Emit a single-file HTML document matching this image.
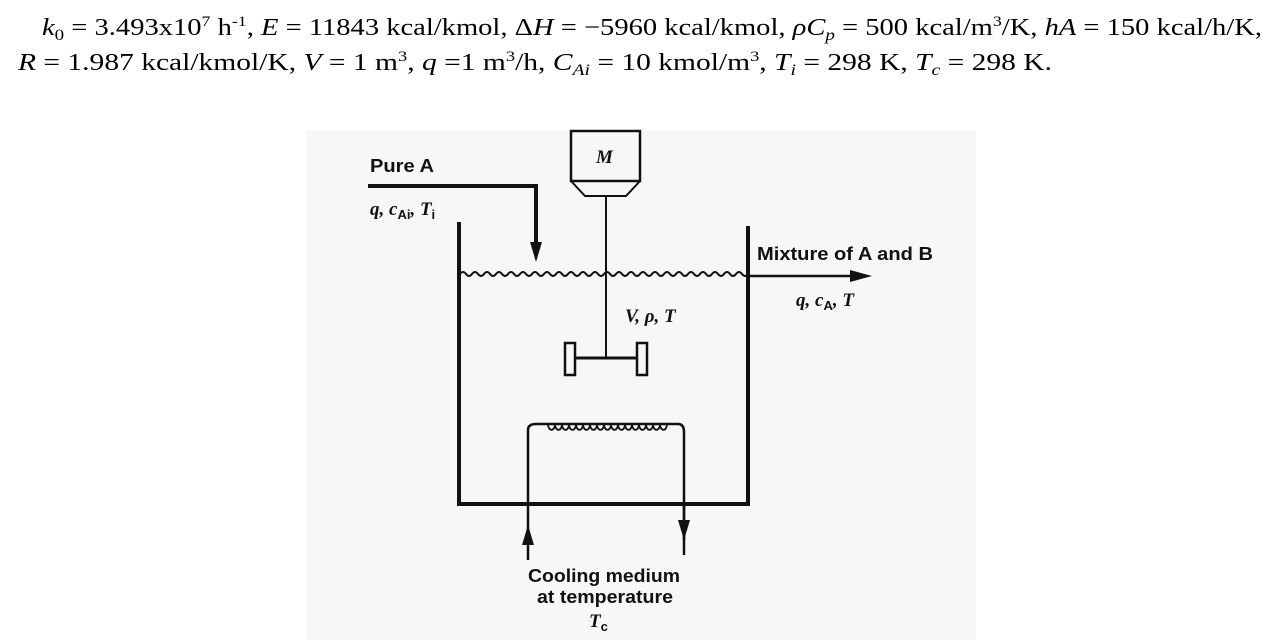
<!DOCTYPE html>
<html><head><meta charset="utf-8"><style>
html,body{margin:0;padding:0;background:#fff;}
svg{display:block;}
.t{font-family:"Liberation Serif",serif;font-size:24px;fill:#000;}
.d{font-family:"Liberation Sans",sans-serif;font-size:18px;font-weight:bold;fill:#111;}
.di{font-family:"Liberation Serif",serif;font-size:19px;font-weight:bold;font-style:italic;fill:#111;}
</style></head><body>
<svg width="1282" height="640" viewBox="0 0 1282 640" xmlns="http://www.w3.org/2000/svg">
<rect width="1282" height="640" fill="#fff"/>
<text class="t" x="42" y="35" textLength="1220" lengthAdjust="spacingAndGlyphs"><tspan font-style="italic">k</tspan><tspan font-size="16" dy="5">0</tspan><tspan dy="-5"> = 3.493x10</tspan><tspan font-size="15" dy="-9">7</tspan><tspan dy="9"> h</tspan><tspan font-size="15" dy="-9">-1</tspan><tspan dy="9">, </tspan><tspan font-style="italic">E</tspan> = 11843 kcal/kmol, Δ<tspan font-style="italic">H</tspan> = −5960 kcal/kmol, <tspan font-style="italic">ρC</tspan><tspan font-size="16" font-style="italic" dy="5">p</tspan><tspan dy="-5"> = 500 kcal/m</tspan><tspan font-size="15" dy="-9">3</tspan><tspan dy="9">/K, </tspan><tspan font-style="italic">hA</tspan> = 150 kcal/h/K,</text>
<text class="t" x="18" y="70" textLength="1034" lengthAdjust="spacingAndGlyphs"><tspan font-style="italic">R</tspan> = 1.987 kcal/kmol/K, <tspan font-style="italic">V</tspan> = 1 m<tspan font-size="15" dy="-9">3</tspan><tspan dy="9">, </tspan><tspan font-style="italic">q</tspan> =1 m<tspan font-size="15" dy="-9">3</tspan><tspan dy="9">/h, </tspan><tspan font-style="italic">C</tspan><tspan font-size="16" font-style="italic" dy="5">Ai</tspan><tspan dy="-5"> = 10 kmol/m</tspan><tspan font-size="15" dy="-9">3</tspan><tspan dy="9">,  </tspan><tspan font-style="italic">T</tspan><tspan font-size="16" font-style="italic" dy="5">i</tspan><tspan dy="-5"> = 298 K, </tspan><tspan font-style="italic">T</tspan><tspan font-size="16" font-style="italic" dy="5">c</tspan><tspan dy="-5"> = 298 K.</tspan></text>

<rect x="306" y="130" width="670" height="510" fill="#f7f7f7"/>
<g stroke="#111" fill="none">
<rect x="571" y="131" width="69" height="50" stroke-width="2.5"/>
<path d="M571 181 L585 196 L626 196 L640 181" stroke-width="2"/>
<line x1="606" y1="196" x2="606" y2="358" stroke-width="2"/>
<line x1="575" y1="358" x2="637" y2="358" stroke-width="3"/>
<rect x="565" y="343" width="10" height="32" stroke-width="2.5"/>
<rect x="637" y="343" width="10" height="32" stroke-width="2.5"/>
<path d="M368 186 L536 186 L536 250" stroke-width="4"/>
<path d="M459 222 L459 504 L748 504 L748 226" stroke-width="4"/>
<path d="M460 274 q3 -4 6 0 q3 4 6 0 q3 -4 6 0 q3 4 6 0 q3 -4 6 0 q3 4 6 0 q3 -4 6 0 q3 4 6 0 q3 -4 6 0 q3 4 6 0 q3 -4 6 0 q3 4 6 0 q3 -4 6 0 q3 4 6 0 q3 -4 6 0 q3 4 6 0 q3 -4 6 0 q3 4 6 0 q3 -4 6 0 q3 4 6 0 q3 -4 6 0 q3 4 6 0 q3 -4 6 0 q3 4 6 0 q3 -4 6 0 q3 4 6 0 q3 -4 6 0 q3 4 6 0 q3 -4 6 0 q3 4 6 0 q3 -4 6 0 q3 4 6 0 q3 -4 6 0 q3 4 6 0 q3 -4 6 0 q3 4 6 0 q3 -4 6 0 q3 4 6 0 q3 -4 6 0 q3 4 6 0 q3 -4 6 0 q3 4 6 0 q3 -4 6 0 q3 4 6 0 q3 -4 6 0 q3 4 6 0 q3 -4 6 0 q3 4 6 0" stroke-width="2"/>
<line x1="748" y1="276" x2="860" y2="276" stroke-width="2.5"/>
<path d="M528 540 L528 430 Q528 424 536 424 L678 424 Q684 424 684 432 L684 540" stroke-width="2.5"/>
<path d="M548 424 a3 5 0 1 0 7 0 a3 5 0 1 0 7 0 a3 5 0 1 0 7 0 a3 5 0 1 0 7 0 a3 5 0 1 0 7 0 a3 5 0 1 0 7 0 a3 5 0 1 0 7 0 a3 5 0 1 0 7 0 a3 5 0 1 0 7 0 a3 5 0 1 0 7 0 a3 5 0 1 0 7 0 a3 5 0 1 0 7 0 a3 5 0 1 0 7 0 a3 5 0 1 0 7 0 a3 5 0 1 0 7 0 a3 5 0 1 0 7 0 a3 5 0 1 0 7 0" stroke-width="1.8"/>
<line x1="528" y1="540" x2="528" y2="560" stroke-width="2.5"/>
<line x1="684" y1="504" x2="684" y2="555" stroke-width="2.5"/>
</g>
<g fill="#111">
<polygon points="530,242 542,242 536,262"/>
<polygon points="850,270 872,276 850,282"/>
<polygon points="522,545 534,545 528,525"/>
<polygon points="678,520 690,520 684,540"/>
</g>
<text class="d" x="370" y="172" textLength="64" lengthAdjust="spacingAndGlyphs">Pure A</text>
<text class="di" x="370" y="215">q, c<tspan font-size="13" font-style="normal" font-family="Liberation Sans" dy="4">Ai</tspan><tspan dy="-4">, T</tspan><tspan font-size="13" font-style="normal" font-family="Liberation Sans" dy="4">i</tspan></text>
<text class="di" x="596" y="163" font-size="17">M</text>
<text class="d" x="757" y="260" textLength="176" lengthAdjust="spacingAndGlyphs">Mixture of A and B</text>
<text class="di" x="796" y="306">q, c<tspan font-size="13" font-style="normal" font-family="Liberation Sans" dy="4">A</tspan><tspan dy="-4">, T</tspan></text>
<text class="di" x="625" y="322">V, ρ, T</text>
<text class="d" x="528" y="582" textLength="152" lengthAdjust="spacingAndGlyphs">Cooling medium</text>
<text class="d" x="537" y="603" textLength="136" lengthAdjust="spacingAndGlyphs">at temperature</text>
<text class="di" x="589" y="627">T<tspan font-size="13" font-style="normal" font-family="Liberation Sans" dy="4">c</tspan></text>
</svg>
</body></html>
